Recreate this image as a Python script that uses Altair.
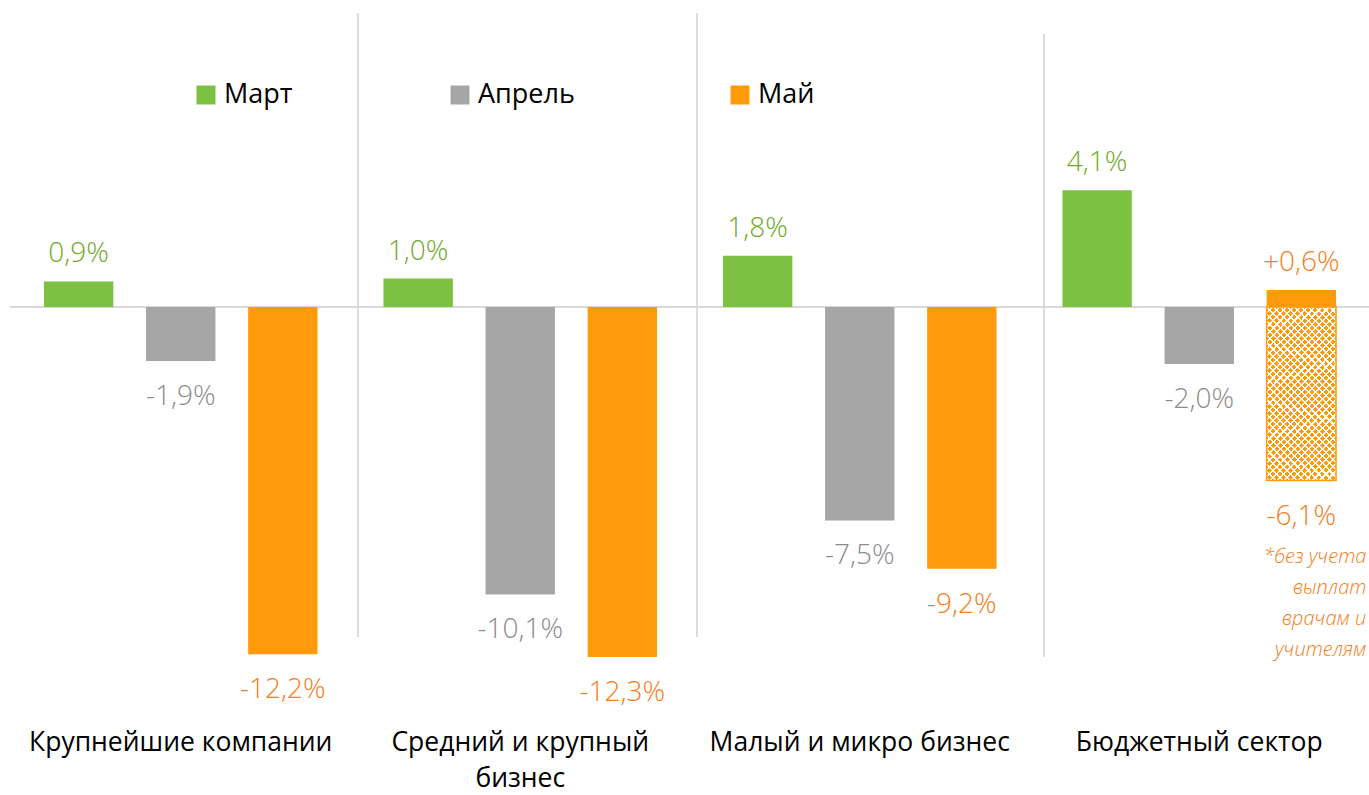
import altair as alt
import pandas as pd

# ---- data ----
categories = ["Крупнейшие компании", "Средний и крупный бизнес", "Малый и микро бизнес", "Бюджетный сектор"]
months = ["Март", "Апрель", "Май"]
mart = [0.9, 1.0, 1.8, 4.1]
aprel = [-1.9, -10.1, -7.5, -2.0]
mai = [-12.2, -12.3, -9.2, 0.6]
# budget sector, May, excluding payments to doctors and teachers
mai_excl_value = -6.1
footnote_lines = ["*без учета", "выплат", "врачам и", "учителям"]

bar_colors = ["#7DC142", "#A6A6A6", "#FF9A0D"]
text_colors = ["#6FA82C", "#8C8C8C", "#F47E20"]
FONT = "Open Sans"


def fmt(v, plus=False):
    s = f"{v:.1f}".replace(".", ",") + "%"
    if plus and v > 0:
        s = "+" + s
    return s


rows = []
for series, name in zip([mart, aprel, mai], months):
    for c, v in zip(categories, series):
        rows.append({"cat": c, "month": name, "value": v,
                     "label": fmt(v, plus=(c == categories[3] and name == "Май"))})
df = pd.DataFrame(rows)
excl_df = pd.DataFrame([{"cat": categories[3], "month": "Май", "value": mai_excl_value,
                         "label": fmt(mai_excl_value), "note": "\n".join(footnote_lines)}])
cat_df = pd.DataFrame({"cat": categories,
                       "text": [c.replace("крупный ", "крупный\n") for c in categories]})
zero_df = pd.DataFrame({"zero": [0.0]})
one = pd.DataFrame({"k": [0]})

# ---- scales ----
x_scale = alt.Scale(domain=categories, paddingInner=0, paddingOuter=0)
xo_scale = alt.Scale(domain=months, paddingInner=0.3204, paddingOuter=0.3228)
y_scale = alt.Scale(domain=[-13.81, 10.79], nice=False, zero=False)

X = alt.X("cat:N", scale=x_scale, axis=None)
XO = alt.XOffset("month:N", scale=xo_scale)
Y = alt.Y("value:Q", scale=y_scale, axis=None)

base = alt.Chart(df)

bars = base.mark_bar().encode(
    x=X, xOffset=XO, y=Y,
    color=alt.Color("month:N", scale=alt.Scale(domain=months, range=bar_colors), legend=None),
)

text_layers = []
for m, tc in zip(months, text_colors):
    text_layers.append(base.transform_filter(f"datum.month == '{m}' && datum.value > 0").mark_text(
        font=FONT, fontSize=28, fontWeight=300, baseline="alphabetic", dy=-19, color=tc
    ).encode(x=X, xOffset=XO, y=Y, text="label:N"))
    text_layers.append(base.transform_filter(f"datum.month == '{m}' && datum.value < 0").mark_text(
        font=FONT, fontSize=28, fontWeight=300, baseline="alphabetic", dy=44, color=tc
    ).encode(x=X, xOffset=XO, y=Y, text="label:N"))

# hatched bar: crosshatch made of two striped linear gradients
N = 70
stops_a, stops_b = [], []
for i in range(N):
    p0, p1, p2 = i / N, (i + 0.7) / N, (i + 1) / N
    stops_a += [alt.GradientStop(offset=p0, color="#FF9A0D"), alt.GradientStop(offset=p1, color="#FF9A0D"),
                alt.GradientStop(offset=p1, color="#FFFFFF"), alt.GradientStop(offset=p2, color="#FFFFFF")]
    stops_b += [alt.GradientStop(offset=p0, color="rgba(255,255,255,0)"),
                alt.GradientStop(offset=p1, color="rgba(255,255,255,0)"),
                alt.GradientStop(offset=p1, color="#FFFFFF"), alt.GradientStop(offset=p2, color="#FFFFFF")]

excl_base = alt.Chart(excl_df)
hatch_a = excl_base.mark_bar(
    fill=alt.Gradient(gradient="linear", stops=stops_a, x1=0, y1=0, x2=1, y2=2.47),
).encode(x=X, xOffset=XO, y=Y)
hatch_b = excl_base.mark_bar(
    fill=alt.Gradient(gradient="linear", stops=stops_b, x1=1, y1=0, x2=0, y2=2.47),
    stroke="#FF9A0D", strokeWidth=1.5,
).encode(x=X, xOffset=XO, y=Y)

excl_text = excl_base.mark_text(
    font=FONT, fontSize=28, fontWeight=300, baseline="alphabetic", dy=44, color=text_colors[2]
).encode(x=X, xOffset=XO, y=Y, text="label:N")

note_text = excl_base.mark_text(
    font=FONT, fontSize=20, fontStyle="italic", fontWeight=300, align="right",
    baseline="alphabetic", dy=82, dx=65, lineHeight=31, lineBreak="\n", color=text_colors[2],
).encode(x=X, xOffset=XO, y=Y, text="note:N")

cat_text = alt.Chart(cat_df).mark_text(
    font=FONT, fontSize=26.5, color="#000000", baseline="top", lineHeight=36, lineBreak="\n"
).encode(x=X, y=alt.value(730), text="text:N")

zero_rule = alt.Chart(zero_df).mark_rule(color="#D9D9D9", strokeWidth=2).encode(
    y=alt.Y("zero:Q", scale=y_scale, axis=None), x=alt.value(-1), x2=alt.value(1358))

sep_layers = [
    alt.Chart(one).mark_rule(color="#D0D0D0", strokeWidth=1.5).encode(
        x=alt.value(347), y=alt.value(13), y2=alt.value(637)),
    alt.Chart(one).mark_rule(color="#D0D0D0", strokeWidth=1.5).encode(
        x=alt.value(686), y=alt.value(13), y2=alt.value(637)),
    alt.Chart(one).mark_rule(color="#D0D0D0", strokeWidth=1.5).encode(
        x=alt.value(1033), y=alt.value(34), y2=alt.value(657)),
]

# legend drawn as marks (square + label per month)
legend_sq_x = [195, 449, 729]
legend_layers = []
for m, c, lx in zip(months, bar_colors, legend_sq_x):
    legend_layers.append(alt.Chart(one).mark_square(size=361, color=c, opacity=1).encode(
        x=alt.value(lx), y=alt.value(95)))
    legend_layers.append(alt.Chart(one).mark_text(
        font=FONT, fontSize=27, color="#000000", align="left", baseline="middle").encode(
        x=alt.value(lx + 18), y=alt.value(95), text=alt.value(m)))

chart = alt.layer(
    *sep_layers, zero_rule, bars, hatch_a, hatch_b, *text_layers, excl_text, note_text, cat_text,
    *legend_layers
).properties(
    width=1358, height=700,
    autosize=alt.AutoSizeParams(type="none"),
    padding={"left": 11, "top": 0, "right": 0, "bottom": 94},
    background="#FFFFFF",
).configure_view(strokeWidth=0)

chart.save("out.html", embed_options={"renderer": "svg", "actions": False})
